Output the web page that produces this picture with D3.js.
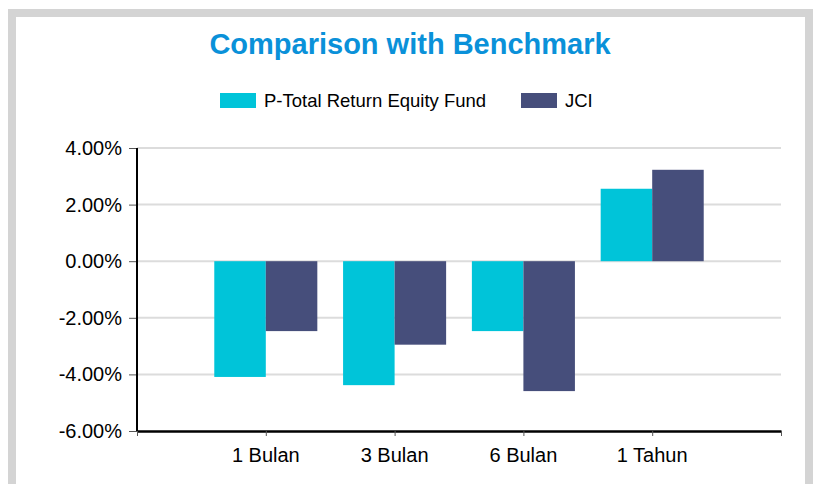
<!DOCTYPE html>
<html>
<head>
<meta charset="utf-8">
<script src="https://cdn.jsdelivr.net/npm/d3@7"></script>
<style>
  body { margin: 0; background: #fff; }
  text { font-family: "Liberation Sans", Arial, sans-serif; }
</style>
</head>
<body>
<div id="chart"></div>
<script>
// chart data
var categories = ["1 Bulan", "3 Bulan", "6 Bulan", "1 Tahun"];
var fundValues = [-4.09, -4.38, -2.47, 2.56];
var jciValues = [-2.47, -2.95, -4.59, 3.23];
var seriesNames = ["P-Total Return Equity Fund", "JCI"];
var yTicks = [-6, -4, -2, 0, 2, 4];

var colors = ["#00c4d9", "#464e7b"];
var width = 814, height = 484;

var svg = d3.select("#chart").append("svg")
	.attr("width", width)
	.attr("height", height);

// grey frame
svg.append("rect")
	.attr("x", 12).attr("y", 13)
	.attr("width", 797).attr("height", 500)
	.attr("fill", "#fff")
	.attr("stroke", "#d4d4d4")
	.attr("stroke-width", 8);

svg.append("text")
	.attr("x", 410).attr("y", 54)
	.attr("text-anchor", "middle")
	.style("font-size", "29px")
	.style("font-weight", "bold")
	.style("fill", "#0a91d9")
	.text("Comparison with Benchmark");

var x = d3.scaleLinear().domain([0, categories.length + 1]).range([137, 781]);
var y = d3.scaleLinear().domain([-6, 4]).range([431, 148]);
var band = x(1) - x(0);
var barW = band * 0.4;

// gridlines
svg.append("g")
	.selectAll("line")
	.data(yTicks.filter(function(d) { return d > -6; }))
	.enter().append("line")
	.attr("x1", x(0)).attr("x2", x(categories.length + 1))
	.attr("y1", function(d) { return y(d); })
	.attr("y2", function(d) { return y(d); })
	.attr("stroke", "#dcdcdc")
	.attr("stroke-width", 2);

// bars
var series = [fundValues, jciValues];
series.forEach(function(vals, s) {
	svg.append("g").selectAll("rect")
		.data(vals)
		.enter().append("rect")
		.attr("x", function(d, i) { return x(i + 1) - barW + s * barW; })
		.attr("width", barW)
		.attr("y", function(d) { return y(Math.max(0, d)); })
		.attr("height", function(d) { return Math.abs(y(d) - y(0)); })
		.attr("fill", colors[s]);
});

// y axis
var yAxis = d3.axisLeft(y)
	.tickValues(yTicks)
	.tickSize(8)
	.tickPadding(7)
	.tickFormat(function(d) { return d.toFixed(2) + "%"; });

var gy = svg.append("g")
	.attr("transform", "translate(" + x(0) + ",0)")
	.call(yAxis);
gy.select(".domain").remove();
gy.selectAll(".tick line").attr("stroke", "#555").attr("stroke-width", 1);
gy.selectAll(".tick text")
	.style("font-size", "20px")
	.style("fill", "#000")
	.style("font-family", "'Liberation Sans', Arial, sans-serif");
gy.append("line")
	.attr("x1", 0).attr("x2", 0)
	.attr("y1", y(4)).attr("y2", y(-6))
	.attr("stroke", "#000")
	.attr("stroke-width", 2);

// x axis
var xAxis = d3.axisBottom(x)
	.tickValues(d3.range(categories.length + 2))
	.tickSize(5)
	.tickSizeOuter(0)
	.tickFormat("");

var gx = svg.append("g")
	.attr("transform", "translate(0," + y(-6) + ")")
	.call(xAxis);
gx.select(".domain").attr("stroke", "#000").attr("stroke-width", 2.5);
gx.selectAll(".tick line").attr("stroke", "#555").attr("stroke-width", 1);

svg.append("g").selectAll("text")
	.data(categories)
	.enter().append("text")
	.attr("x", function(d, i) { return x(i + 1); })
	.attr("y", 462)
	.attr("text-anchor", "middle")
	.style("font-size", "20px")
	.text(function(d) { return d; });

// legend
var legendX = [220, 521];
var legend = svg.append("g").selectAll("g")
	.data(seriesNames)
	.enter().append("g")
	.attr("transform", function(d, i) { return "translate(" + legendX[i] + ",0)"; });
legend.append("rect")
	.attr("x", 0).attr("y", 93)
	.attr("width", 36).attr("height", 15)
	.attr("fill", function(d, i) { return colors[i]; });
legend.append("text")
	.attr("x", 44).attr("y", 107)
	.style("font-size", "18.5px")
	.text(function(d) { return d; });
</script>
</body>
</html>
